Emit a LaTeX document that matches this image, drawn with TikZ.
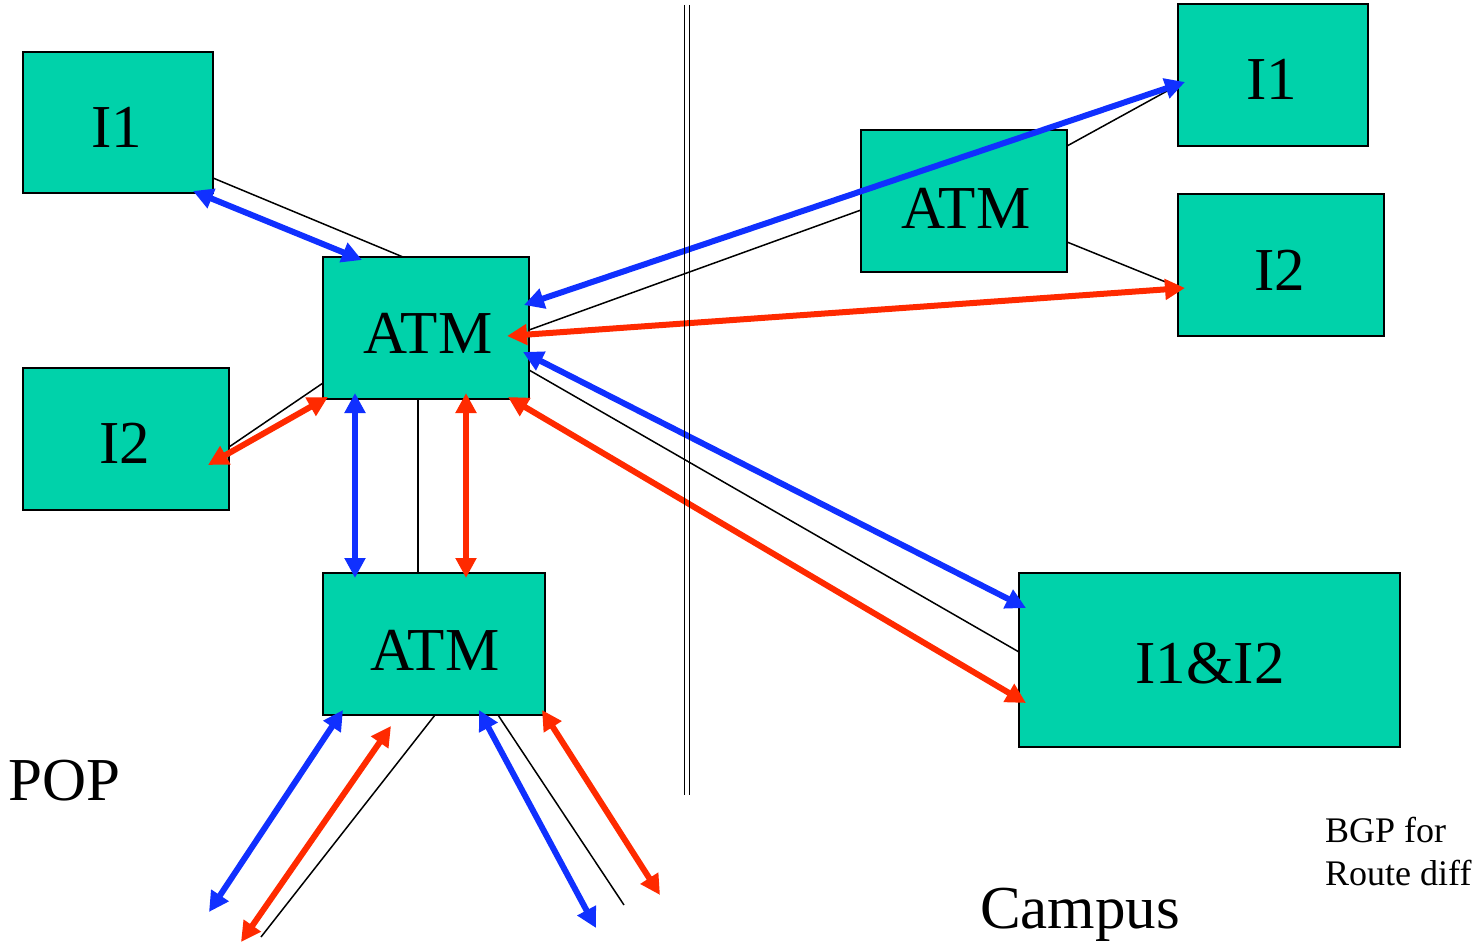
\documentclass[tikz,border=0pt]{standalone}
\usepackage{fontspec}
\setmainfont{Liberation Serif}
\usetikzlibrary{arrows.meta,calc}
\definecolor{boxfill}{RGB}{0,210,170}
\definecolor{linkblue}{RGB}{16,48,255}
\definecolor{linkred}{RGB}{255,42,0}
\begin{document}
\begin{tikzpicture}[x=1pt,y=-1pt,
  box/.style={draw=black, line width=2pt, fill=boxfill, inner sep=0pt, outer sep=0pt},
  big/.style={font=\fontsize{61}{61}\selectfont, inner sep=0pt, anchor=base},
  bigleft/.style={font=\fontsize{61}{61}\selectfont, inner sep=0pt, anchor=base west},
  note/.style={font=\fontsize{36}{36}\selectfont, inner sep=0pt, anchor=base west},
  wire/.style={draw=black, line width=1.5pt},
  sepline/.style={draw=black, line width=1.6pt},
  bi/.style={line width=6pt, {Triangle[length=20pt,width=20pt]}-{Triangle[length=20pt,width=20pt]}},
  bluelink/.style={bi, draw=linkblue},
  redlink/.style={bi, draw=linkred}]

\useasboundingbox (0,0) rectangle (1480,947);

% --- free ends of the thin outgoing links ---
\coordinate (wireL) at (261,937);
\coordinate (wireR) at (624,905);

% --- boxes ---
\node[box, minimum width=190pt, minimum height=141pt] (i1l)  at (118,122.5) {};
\node[box, minimum width=206pt, minimum height=142pt] (atmc) at (426,328) {};
\node[box, minimum width=206pt, minimum height=142pt] (i2l)  at (126,439) {};
\node[box, minimum width=222pt, minimum height=142pt] (atmb) at (434,644) {};
\node[box, minimum width=206pt, minimum height=142pt] (atmr) at (964,201) {};
\node[box, minimum width=190pt, minimum height=142pt] (i1r)  at (1273,75) {};
\node[box, minimum width=206pt, minimum height=142pt] (i2r)  at (1281,265) {};
\node[box, minimum width=381pt, minimum height=174pt] (i12)  at (1209.5,660) {};

% --- box labels ---
\node[big] (t-i1l)  at (117,148) {I1};
\node[big] (t-atmc) at (428,353) {ATM};
\node[big] (t-i2l)  at (125,463) {I2};
\node[big] (t-atmb) at (435,670) {ATM};
\node[big] (t-atmr) at (966,228) {ATM};
\node[big] (t-i1r)  at (1272,100) {I1};
\node[big] (t-i2r)  at (1280,290) {I2};
\node[big] (t-i12)  at (1210,683) {I1\&I2};

% --- thin links ---
\draw[wire] ($(i1l.north west)+(190,126)$) -- ($(atmc.north west)+(80,0)$);
\draw[wire] ($(atmc.north west)+(0,126)$) -- ($(i2l.north west)+(206,79)$);
\draw[wire] ($(atmc.north west)+(95,142)$) -- ($(atmb.north west)+(95,0)$);
\draw[wire] ($(atmc.north west)+(206,73)$) -- ($(atmr.north west)+(0,80)$);
\draw[wire] ($(atmr.north west)+(206,16)$) -- ($(i1r.north west)+(0,81)$);
\draw[wire] ($(atmr.north west)+(206,112)$) -- ($(i2r.north west)+(0,93)$);
\draw[wire] ($(atmc.north west)+(206,113)$) -- ($(i12.north west)+(0,79)$);
\draw[wire] ($(atmb.north west)+(112,142)$) -- (wireL);
\draw[wire] ($(atmb.north west)+(175,142)$) -- (wireR);

% --- routing arrows ---
\coordinate (outA) at (209,912);
\coordinate (outB) at (241,942);
\coordinate (outC) at (596,928);
\coordinate (outD) at (660,895);

\draw[bluelink] ($(i1l.north west)+(170,139)$) -- ($(atmc.north west)+(39,3)$);
\draw[redlink]  ($(i2l.north west)+(185,97)$) -- ($(atmc.north west)+(5,140)$);
\draw[bluelink] ($(atmc.north west)+(32,136)$) -- ($(atmb.north west)+(32,5)$);
\draw[redlink]  ($(atmc.north west)+(143,136)$) -- ($(atmb.north west)+(143,5)$);
\draw[bluelink] ($(atmc.north west)+(201,48)$) -- ($(i1r.north west)+(7,78)$);
\draw[redlink]  ($(atmc.north west)+(184,79)$) -- ($(i2r.north west)+(7,94)$);
\draw[bluelink] ($(atmc.north west)+(200,95)$) -- ($(i12.north west)+(7,35)$);
\draw[redlink]  ($(atmc.north west)+(185,140)$) -- ($(i12.north west)+(7,130)$);
\draw[bluelink] ($(atmb.north west)+(20,137)$) -- (outA);
\draw[redlink]  ($(atmb.north west)+(68,153)$) -- (outB);
\draw[bluelink] ($(atmb.north west)+(156,137)$) -- (outC);
\draw[redlink]  ($(atmb.north west)+(219,137)$) -- (outD);

% --- POP / campus boundary ---
\coordinate (sepAtop) at (684.5,5);
\coordinate (sepAbot) at (684.5,795);
\coordinate (sepBtop) at (689.5,5);
\coordinate (sepBbot) at (689.5,795);
\draw[sepline] (sepAtop) -- (sepAbot);
\draw[sepline] (sepBtop) -- (sepBbot);

% --- area labels ---
\node[bigleft] (pop)    at (8,800)   {POP};
\node[bigleft] (campus) at (980,928) {Campus};
\node[note] (bgp1) at (1325,842) {BGP for};
\node[note] (bgp2) at (1325,885) {Route diff};
\end{tikzpicture}
\end{document}
